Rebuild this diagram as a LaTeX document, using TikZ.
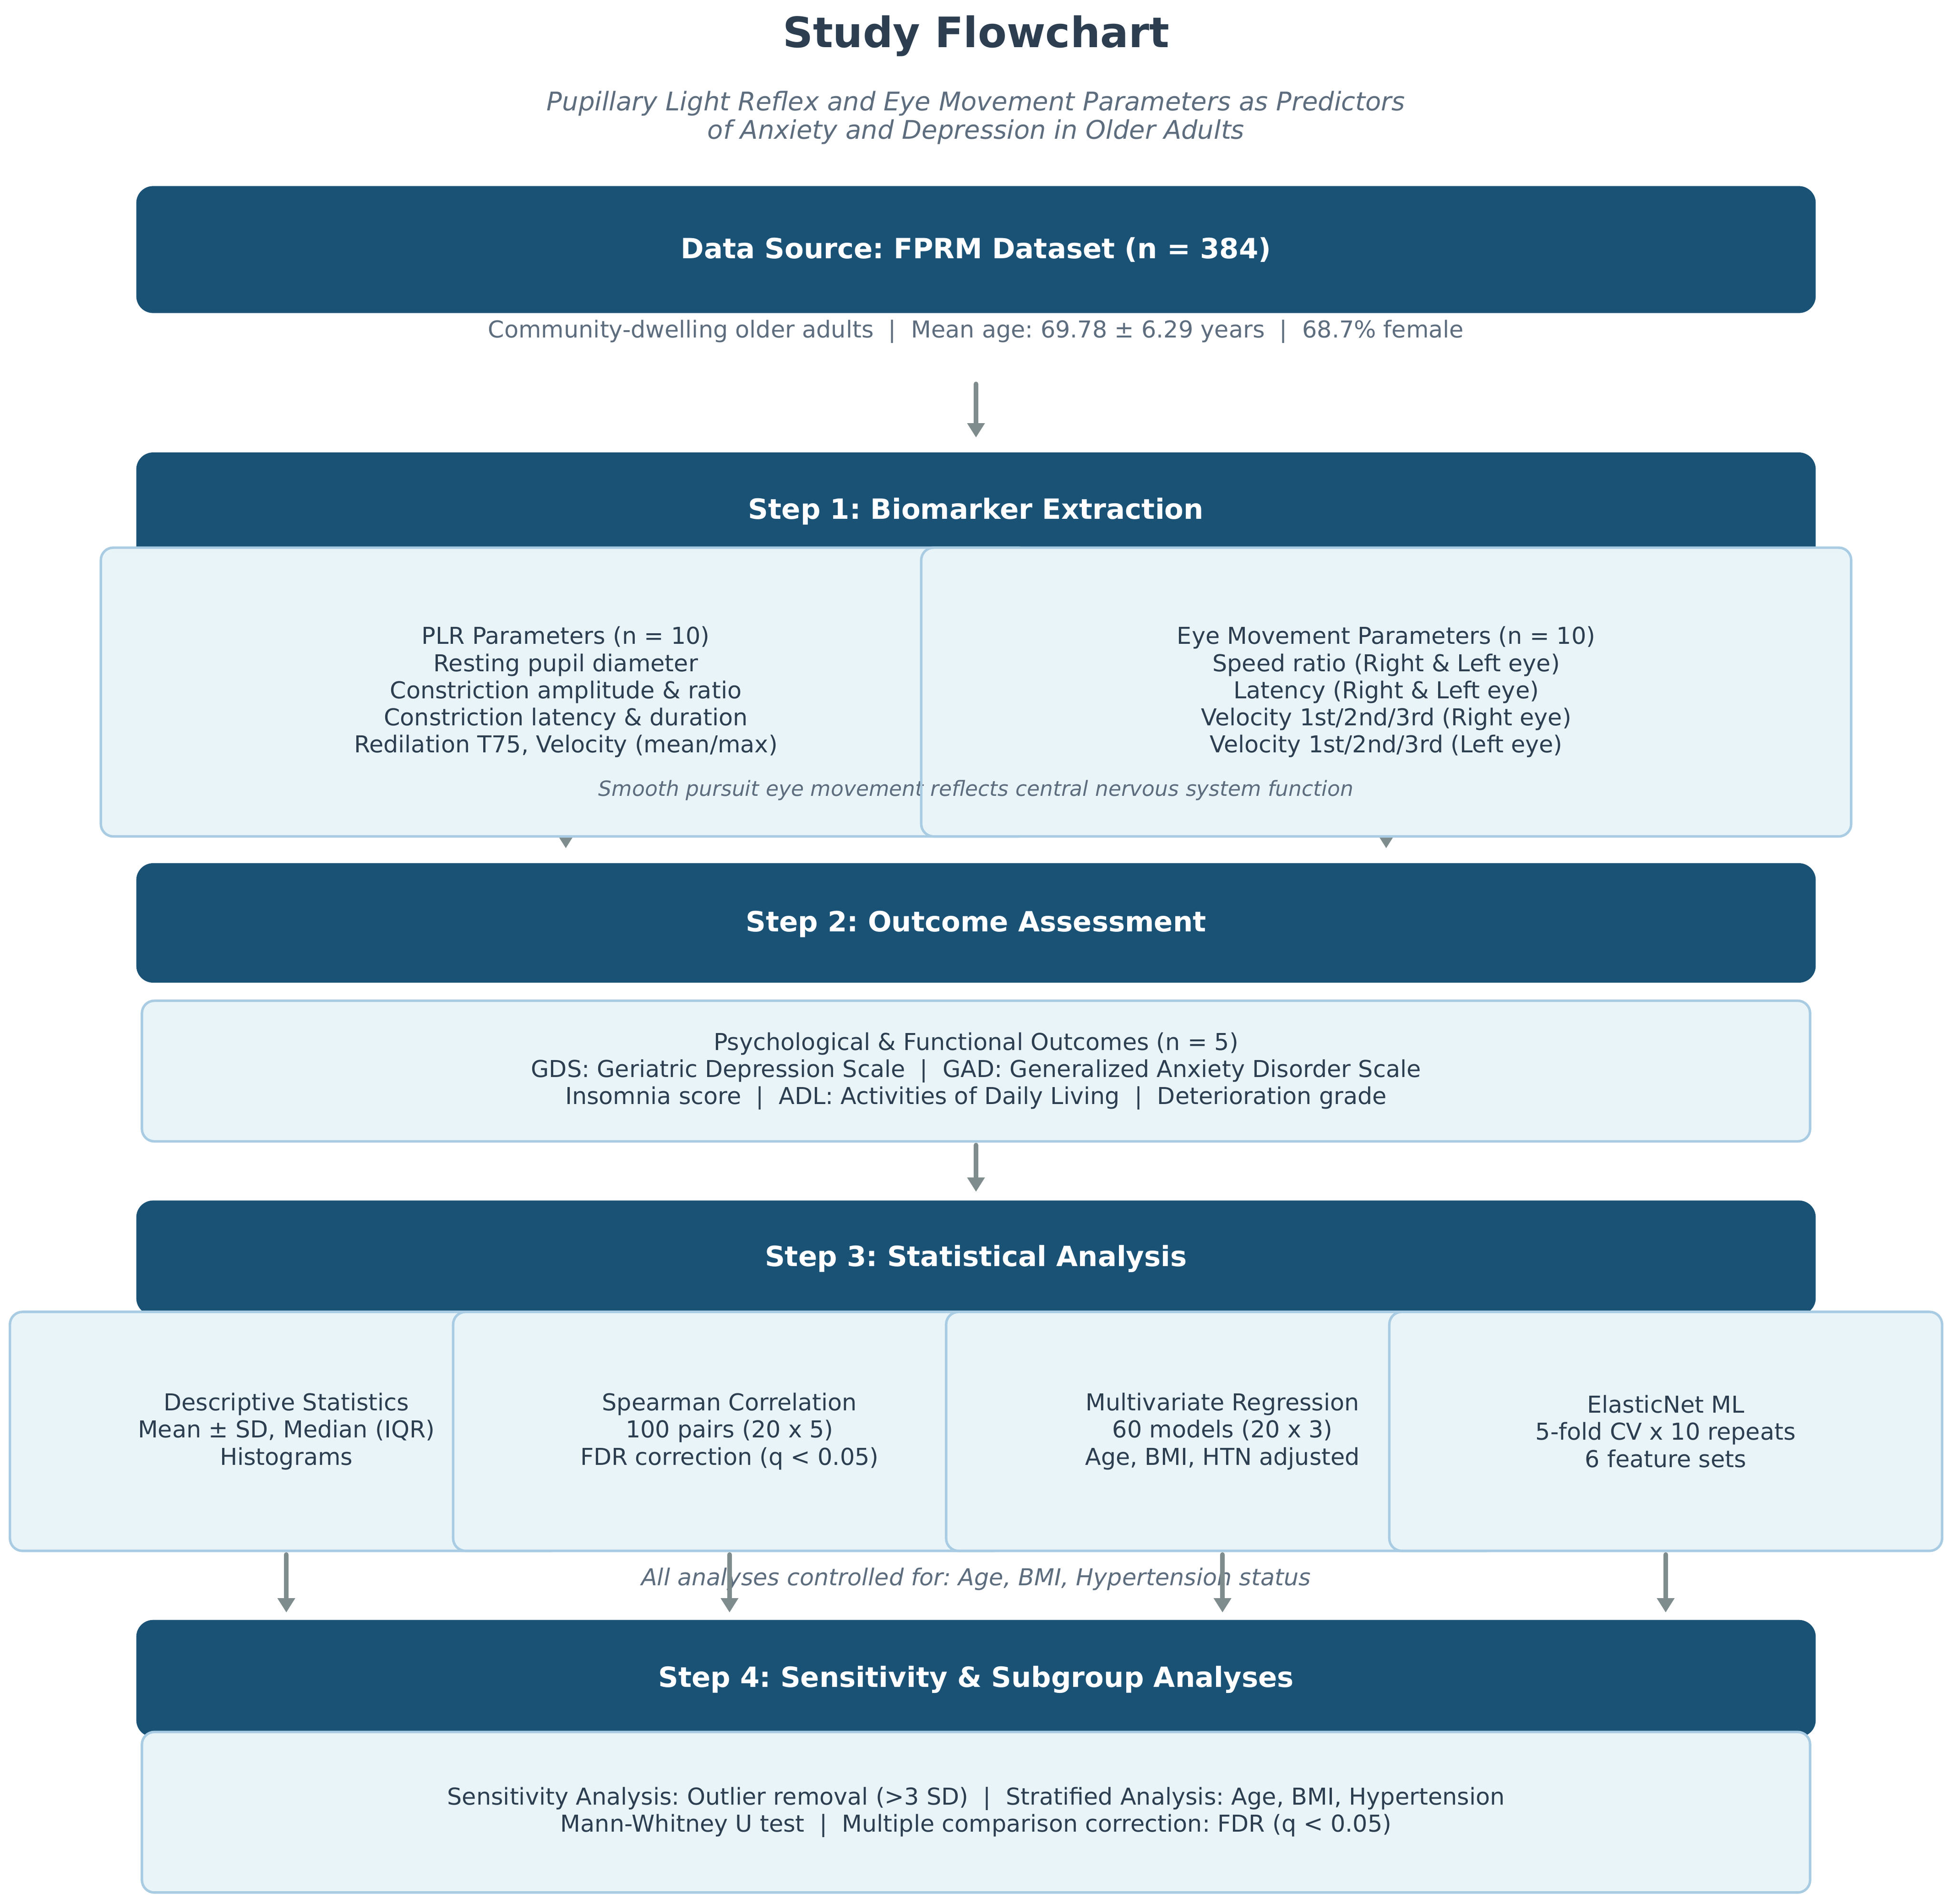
\documentclass[tikz,border=0pt]{standalone}
\usepackage{fontspec}
\setmainfont{DejaVu Sans}
\usetikzlibrary{arrows.meta}
\frenchspacing
\definecolor{darkblue}{HTML}{1A5276}
\definecolor{lightfill}{HTML}{E8F4F8}
\definecolor{lightborder}{HTML}{A9CCE3}
\definecolor{arrowgray}{HTML}{7F8C8D}
\definecolor{textdark}{HTML}{2C3E50}
\definecolor{textgray}{HTML}{5D6D7E}
\pgfdeclarelayer{back}
\pgfsetlayers{back,main}
\tikzset{
  darkbox/.style={fill=darkblue, draw=darkblue, line width=1pt, rounded corners=13pt, inner sep=0pt,
    text=white, font=\fontsize{22.4}{26}\selectfont\bfseries, text height=18pt, text depth=4pt},
  lightbox/.style={fill=lightfill, draw=lightborder, line width=2pt, rounded corners=10pt, inner sep=0pt,
    text=textdark, align=center, font=\fontsize{18.7}{21.8}\selectfont},
  arr/.style={draw=arrowgray, line width=3.8pt, line cap=round, -{Triangle[width=13.5pt,length=11.5pt]}},
  notetext/.style={text=textgray, inner sep=0pt, font=\fontsize{16.8}{19.6}\selectfont\itshape, text height=12.8pt, text depth=3.8pt},
  subtext/.style={text=textgray, inner sep=0pt, font=\fontsize{18.7}{21.8}\selectfont, text height=14pt, text depth=4.5pt},
}
\begin{document}
\begin{tikzpicture}[x=1pt,y=-1pt]
\useasboundingbox (0,0) rectangle (1568,1529.4);

% title
\node[anchor=base, inner sep=0pt, text=textdark, font=\fontsize{33.7}{40}\selectfont\bfseries] (title) at (784,38) {Study Flowchart};
\node[inner sep=0pt, align=center, text=textgray, font=\fontsize{20.6}{23}\selectfont\itshape] (subtitle) at (784,94.5)
  {Pupillary Light Reflex and Eye Movement Parameters as Predictors\\of Anxiety and Depression in Older Adults};

% data source
\node[darkbox, minimum width=1348pt, minimum height=101pt] (ds) at (784,200.5) {Data Source: FPRM Dataset (n = 384)};
\node[subtext] (dsinfo) at (784,266.5) {Community-dwelling older adults \ | \ Mean age: 69.78 ± 6.29 years \ | \ 68.7\% female};

% step 1
\node[darkbox, minimum width=1348pt, minimum height=92pt] (s1) at (784,410) {Step 1: Biomarker Extraction};
\draw[arr] ([yshift=-57pt]ds.south) -- ([yshift=12pt]s1.north);

\node[lightbox, minimum width=747pt, minimum height=232pt] (plr) at (454.5,556)
  {PLR Parameters (n = 10)\\Resting pupil diameter\\Constriction amplitude \& ratio\\Constriction latency \& duration\\Redilation T75, Velocity (mean/max)};
\node[lightbox, minimum width=747pt, minimum height=232pt] (eye) at (1113.5,556)
  {Eye Movement Parameters (n = 10)\\Speed ratio (Right \& Left eye)\\Latency (Right \& Left eye)\\Velocity 1st/2nd/3rd (Right eye)\\Velocity 1st/2nd/3rd (Left eye)};
\node[notetext] (note1) at (784,635) {Smooth pursuit eye movement reflects central nervous system function};
\draw[lightborder, line width=2pt] ([xshift=1pt,yshift=14pt]eye.west |- note1.center) -- ([xshift=1pt,yshift=-14pt]eye.west |- note1.center);

% step 2
\node[darkbox, minimum width=1348pt, minimum height=95pt] (s2) at (784,741.5) {Step 2: Outcome Assessment};
\begin{pgfonlayer}{back}
\draw[arr] (plr.center) -- ([yshift=12pt]plr.center |- s2.north);
\draw[arr] (eye.center) -- ([yshift=12pt]eye.center |- s2.north);
\end{pgfonlayer}

\node[lightbox, minimum width=1340pt, minimum height=113pt] (out) at (784,860.5)
  {Psychological \& Functional Outcomes (n = 5)\\GDS: Geriatric Depression Scale \ | \ GAD: Generalized Anxiety Disorder Scale\\Insomnia score \ | \ ADL: Activities of Daily Living \ | \ Deterioration grade};

% step 3
\node[darkbox, minimum width=1348pt, minimum height=91pt] (s3) at (784,1010.5) {Step 3: Statistical Analysis};
\draw[arr] ([yshift=-2pt]out.south) -- ([yshift=7pt]s3.north);

\node[lightbox, minimum width=444pt, minimum height=192pt] (desc) at (230,1150)
  {Descriptive Statistics\\Mean ± SD, Median (IQR)\\Histograms};
\node[lightbox, minimum width=444pt, minimum height=192pt] (spear) at (586,1150)
  {Spearman Correlation\\100 pairs (20 x 5)\\FDR correction (q < 0.05)};
\node[lightbox, minimum width=444pt, minimum height=192pt] (reg) at (982,1150)
  {Multivariate Regression\\60 models (20 x 3)\\Age, BMI, HTN adjusted};
\node[lightbox, minimum width=444pt, minimum height=192pt] (enet) at (1338,1150)
  {ElasticNet ML\\5-fold CV x 10 repeats\\6 feature sets};
\node[notetext, font=\fontsize{18.7}{21.8}\selectfont\itshape, text height=14pt, text depth=4.5pt] (note3) at (784,1269) {All analyses controlled for: Age, BMI, Hypertension status};

% step 4
\node[darkbox, minimum width=1348pt, minimum height=93pt] (s4) at (784,1348.5) {Step 4: Sensitivity \& Subgroup Analyses};
\foreach \b in {desc,spear,reg,enet}{
  \draw[arr] ([yshift=-2pt]\b.south) -- ([yshift=6pt]\b.south |- s4.north);
}
\node[lightbox, minimum width=1340pt, minimum height=129pt] (sens) at (784,1456)
  {Sensitivity Analysis: Outlier removal (>3 SD) \ | \ Stratified Analysis: Age, BMI, Hypertension\\Mann-Whitney U test \ | \ Multiple comparison correction: FDR (q < 0.05)};
\end{tikzpicture}
\end{document}
